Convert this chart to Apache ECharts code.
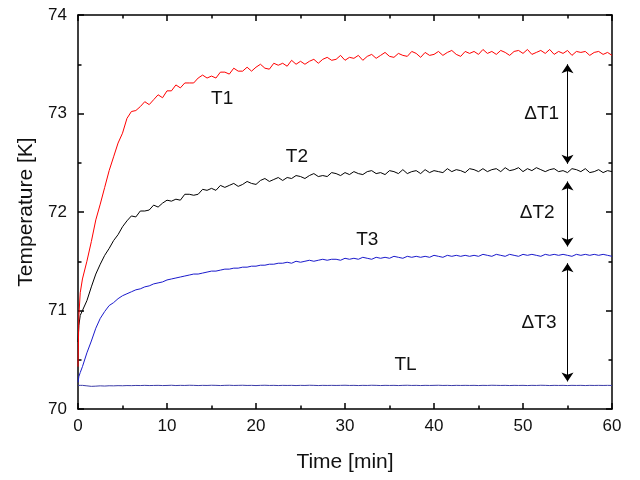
<!DOCTYPE html>
<html><head><meta charset="utf-8">
<script src="https://cdn.jsdelivr.net/npm/echarts@6/dist/echarts.min.js"></script>
<style>html,body{margin:0;padding:0;background:#fff}#c{width:640px;height:480px}</style>
</head><body><div id="c"></div>
<script>
// time in minutes
const time = [
0,0.1,0.25,0.5,1,1.5,2,2.5,3,3.5,
4,4.5,5,5.5,6,6.5,7,7.5,8,8.5,
9,9.5,10,10.5,11,11.5,12,12.5,13,13.5,
14,14.5,15,15.5,16,16.5,17,17.5,18,18.5,
19,19.5,20,20.5,21,21.5,22,22.5,23,23.5,
24,24.5,25,25.5,26,26.5,27,27.5,28,28.5,
29,29.5,30,30.5,31,31.5,32,32.5,33,33.5,
34,34.5,35,35.5,36,36.5,37,37.5,38,38.5,
39,39.5,40,40.5,41,41.5,42,42.5,43,43.5,
44,44.5,45,45.5,46,46.5,47,47.5,48,48.5,
49,49.5,50,50.5,51,51.5,52,52.5,53,53.5,
54,54.5,55,55.5,56,56.5,57,57.5,58,58.5,
59,59.5,60];
const T1 = [
70.43,70.95,71.18,71.32,71.50,71.70,71.92,72.08,72.25,72.42,
72.56,72.70,72.80,72.95,73.02,73.03,73.07,73.12,73.09,73.14,
73.19,73.16,73.23,73.23,73.29,73.26,73.31,73.31,73.31,73.36,
73.39,73.36,73.38,73.36,73.42,73.42,73.40,73.46,73.43,73.43,
73.47,73.43,73.47,73.50,73.46,73.45,73.51,73.49,73.51,73.48,
73.54,73.50,73.53,73.50,73.53,73.55,73.51,73.55,73.57,73.54,
73.55,73.59,73.54,73.57,73.56,73.59,73.54,73.58,73.60,73.56,
73.59,73.62,73.58,73.57,73.61,73.59,73.58,73.63,73.61,73.57,
73.62,73.59,73.60,73.63,73.59,73.62,73.64,73.60,73.58,73.63,
73.61,73.63,73.60,73.65,73.61,73.63,73.60,73.64,73.62,73.59,
73.63,73.64,73.61,73.65,73.60,73.62,73.64,73.61,73.65,73.60,
73.63,73.61,73.64,73.59,73.63,73.62,73.63,73.59,73.62,73.63,
73.60,73.62,73.59];
const T2 = [
70.68,70.85,70.95,71.00,71.10,71.24,71.37,71.47,71.56,71.63,
71.71,71.77,71.85,71.91,71.96,71.95,72.01,72.01,72.02,72.07,
72.05,72.09,72.12,72.11,72.13,72.12,72.18,72.18,72.17,72.18,
72.23,72.22,72.24,72.22,72.27,72.25,72.27,72.29,72.26,72.28,
72.31,72.29,72.28,72.32,72.34,72.31,72.33,72.35,72.32,72.35,
72.34,72.37,72.36,72.34,72.37,72.39,72.36,72.37,72.36,72.40,
72.39,72.37,72.40,72.38,72.41,72.39,72.38,72.41,72.42,72.39,
72.40,72.38,72.42,72.41,72.39,72.43,72.39,72.41,72.42,72.39,
72.43,72.40,72.42,72.41,72.40,72.44,72.41,72.43,72.42,72.40,
72.44,72.43,72.41,72.44,72.41,72.43,72.44,72.41,72.45,72.42,
72.43,72.45,72.41,72.44,72.42,72.45,72.43,72.41,72.43,72.44,
72.41,72.42,72.40,72.44,72.43,72.41,72.44,72.40,72.41,72.43,
72.40,72.42,72.41];
const T3 = [
70.27,70.33,70.37,70.43,70.57,70.69,70.82,70.92,70.99,71.05,
71.08,71.12,71.15,71.17,71.19,71.21,71.22,71.24,71.25,71.27,
71.28,71.29,71.31,71.32,71.33,71.34,71.35,71.36,71.37,71.37,
71.38,71.39,71.40,71.40,71.41,71.42,71.42,71.43,71.43,71.44,
71.44,71.45,71.45,71.46,71.46,71.47,71.47,71.48,71.48,71.49,
71.48,71.50,71.49,71.50,71.51,71.50,71.51,71.52,71.51,71.52,
71.52,71.51,71.53,71.52,71.53,71.52,71.54,71.53,71.52,71.54,
71.53,71.54,71.53,71.55,71.54,71.53,71.55,71.54,71.55,71.54,
71.55,71.54,71.56,71.55,71.54,71.56,71.55,71.56,71.55,71.56,
71.55,71.56,71.55,71.57,71.56,71.55,71.57,71.56,71.55,71.57,
71.56,71.55,71.57,71.56,71.57,71.56,71.55,71.57,71.56,71.57,
71.56,71.57,71.56,71.55,71.57,71.56,71.57,71.56,71.57,71.56,
71.57,71.56,71.55];
const TL = [
70.240,70.240,70.240,70.240,70.235,70.230,70.232,70.235,70.233,70.236,
70.235,70.237,70.236,70.238,70.237,70.239,70.238,70.240,70.238,70.239,
70.240,70.238,70.239,70.241,70.238,70.240,70.239,70.241,70.240,70.238,
70.240,70.239,70.241,70.240,70.238,70.240,70.241,70.239,70.240,70.241,
70.239,70.240,70.238,70.240,70.241,70.239,70.240,70.238,70.240,70.239,
70.240,70.238,70.240,70.239,70.241,70.240,70.238,70.240,70.239,70.240,
70.239,70.240,70.241,70.239,70.240,70.238,70.240,70.239,70.241,70.240,
70.238,70.240,70.239,70.240,70.238,70.240,70.241,70.239,70.240,70.238,
70.240,70.239,70.240,70.241,70.239,70.240,70.238,70.240,70.239,70.240,
70.239,70.240,70.238,70.240,70.239,70.241,70.240,70.239,70.240,70.238,
70.240,70.239,70.240,70.238,70.240,70.239,70.241,70.240,70.238,70.240,
70.239,70.240,70.238,70.240,70.239,70.240,70.238,70.240,70.239,70.240,
70.239,70.240,70.239];
// difference arrows at t = 55 min
const arrowTime = 55;
const arrowTop = [73.50, 72.31, 71.48];
const arrowBottom = [72.49, 71.65, 70.28];
const annoText = ['T1','T2','T3','TL','\u0394T1','\u0394T2','\u0394T3'];
const annoTime = [16.2, 24.6, 32.5, 36.8, 52.1, 51.6, 51.8];
const annoTemp = [73.15, 72.56, 71.72, 70.45, 73.00, 71.99, 70.88];

const FONT = "'Liberation Sans', Arial, sans-serif";
const pairs = v => time.map((t, i) => [t, v[i]]);
const axisBase = {
  axisLine: {show: true, onZero: false, lineStyle: {color: '#000', width: 1.5}},
  axisTick: {show: true, inside: true, length: 6, lineStyle: {color: '#000', width: 1.5}},
  minorTick: {show: true, splitNumber: 2, length: 3.5, lineStyle: {color: '#000', width: 1.5}},
  splitLine: {show: false}, minorSplitLine: {show: false}
};
const chart = echarts.init(document.getElementById('c'), null, {renderer: 'canvas'});
const lineSeries = (name, data, color, extra) => Object.assign({
  name, type: 'line', data: pairs(data), showSymbol: false, symbol: 'none',
  lineStyle: {color, width: 1}, itemStyle: {color}, smooth: false,
  animation: false, silent: true, z: 3
}, extra || {});

chart.setOption({
  backgroundColor: '#fff',
  animation: false,
  grid: {left: 78, right: 28, top: 15, bottom: 71, outerBoundsMode: 'none'},
  xAxis: [
    Object.assign({type: 'value', min: 0, max: 60, interval: 10, position: 'bottom',
      name: 'Time [min]', nameLocation: 'middle', nameGap: 43,
      nameTextStyle: {fontSize: 21, color: '#111', fontFamily: FONT},
      axisLabel: {fontSize: 17, color: '#111', margin: 9, fontFamily: FONT}}, axisBase),
    Object.assign({type: 'value', min: 0, max: 60, interval: 10, position: 'top',
      axisLabel: {show: false}}, axisBase)
  ],
  yAxis: [
    Object.assign({type: 'value', min: 70, max: 74, interval: 1, position: 'left',
      name: 'Temperature [K]', nameLocation: 'middle', nameGap: 40,
      nameTextStyle: {fontSize: 21, color: '#111', fontFamily: FONT},
      axisLabel: {fontSize: 17, color: '#111', margin: 11, fontFamily: FONT}}, axisBase),
    Object.assign({type: 'value', min: 70, max: 74, interval: 1, position: 'right',
      axisLabel: {show: false}}, axisBase)
  ],
  series: [
    lineSeries('TL', TL, '#3c3ca8'),
    lineSeries('T3', T3, '#1a1acc'),
    lineSeries('T2', T2, '#000000'),
    lineSeries('T1', T1, '#ff0000', {
      markLine: {
        silent: true, animation: false,
        symbol: ['arrow', 'arrow'], symbolSize: 9,
        label: {show: false},
        lineStyle: {color: '#000', width: 1, type: 'solid'},
        emphasis: {disabled: true},
        data: arrowTop.map((v, i) => [{coord: [arrowTime, v]}, {coord: [arrowTime, arrowBottom[i]]}])
      }
    })
  ]
});

const g = annoText.map((txt, i) => {
  const p = chart.convertToPixel({xAxisIndex: 0, yAxisIndex: 0}, [annoTime[i], annoTemp[i]]);
  return {type: 'text', x: p[0], y: p[1], silent: true, z: 10,
    style: {text: txt, fill: '#111', font: '19px ' + FONT, align: 'center', verticalAlign: 'middle'}};
});
chart.setOption({graphic: g});
</script></body></html>
